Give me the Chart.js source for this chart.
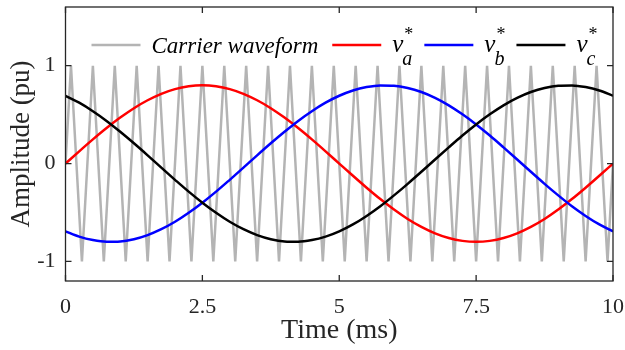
<!DOCTYPE html>
<html>
<head>
<meta charset="utf-8">
<script src="https://cdn.jsdelivr.net/npm/chart.js@4"></script>
<style>
  body { margin: 0; background: #fff; }
  #wrap { width: 625px; height: 350px; }
</style>
</head>
<body>
<div id="wrap"><canvas id="pwmChart" width="625" height="350"></canvas></div>
<script>
// time axis of the references (ms), one sample every 0.25 ms
const sineTime = [0, 0.25, 0.5, 0.75, 1, 1.25, 1.5, 1.75, 2, 2.25, 2.5, 2.75, 3, 3.25, 3.5, 3.75, 4, 4.25, 4.5, 4.75, 5,
  5.25, 5.5, 5.75, 6, 6.25, 6.5, 6.75, 7, 7.25, 7.5, 7.75, 8, 8.25, 8.5, 8.75, 9, 9.25, 9.5, 9.75, 10]

// three-phase references (pu)
const vaRef = [0, 0.125, 0.247, 0.363, 0.470, 0.566, 0.647, 0.713, 0.761, 0.790, 0.800, 0.790, 0.761, 0.713, 0.647, 0.566, 0.470, 0.363, 0.247, 0.125, 0,
  -0.125, -0.247, -0.363, -0.470, -0.566, -0.647, -0.713, -0.761, -0.790, -0.800, -0.790, -0.761, -0.713, -0.647, -0.566, -0.470, -0.363, -0.247, -0.125, 0]
const vbRef = [-0.693, -0.747, -0.782, -0.799, -0.796, -0.773, -0.731, -0.671, -0.595, -0.503, -0.400, -0.287, -0.166, -0.042, 0.084, 0.207, 0.325, 0.436, 0.535, 0.622, 0.693,
  0.747, 0.782, 0.799, 0.796, 0.773, 0.731, 0.671, 0.595, 0.503, 0.400, 0.287, 0.166, 0.042, -0.084, -0.207, -0.325, -0.436, -0.535, -0.622, -0.693]
const vcRef = [0.693, 0.622, 0.535, 0.436, 0.325, 0.207, 0.084, -0.042, -0.166, -0.287, -0.400, -0.503, -0.595, -0.671, -0.731, -0.773, -0.796, -0.799, -0.782, -0.747, -0.693,
  -0.622, -0.535, -0.436, -0.325, -0.207, -0.084, 0.042, 0.166, 0.287, 0.400, 0.503, 0.595, 0.671, 0.731, 0.773, 0.796, 0.799, 0.782, 0.747, 0.693]

// triangular carrier: corner times (ms) and levels (pu)
const carrierTime = [0, 0.1, 0.3, 0.5, 0.7, 0.9, 1.1, 1.3, 1.5, 1.7, 1.9, 2.1, 2.3, 2.5, 2.7, 2.9, 3.1, 3.3, 3.5, 3.7, 3.9,
  4.1, 4.3, 4.5, 4.7, 4.9, 5.1, 5.3, 5.5, 5.7, 5.9, 6.1, 6.3, 6.5, 6.7, 6.9, 7.1, 7.3, 7.5, 7.7, 7.9,
  8.1, 8.3, 8.5, 8.7, 8.9, 9.1, 9.3, 9.5, 9.7, 9.9, 10]
const carrierLevel = [0, 1, -1, 1, -1, 1, -1, 1, -1, 1, -1, 1, -1, 1, -1, 1, -1, 1, -1, 1, -1,
  1, -1, 1, -1, 1, -1, 1, -1, 1, -1, 1, -1, 1, -1, 1, -1, 1, -1, 1, -1,
  1, -1, 1, -1, 1, -1, 1, -1, 1, -1, 0]

const xTicks = [0, 2.5, 5, 7.5, 10]
const yTicks = [-1, 0, 1]
const phaseNames = [`a`, `b`, `c`]
const carrierName = `Carrier waveform`

const serif = `"Liberation Serif", "Times New Roman", serif`
const axisInk = `#262626`
const phaseColors = [`#ff0000`, `#0000ff`, `#000000`]
const carrierColor = `#b4b4b4`

const toPoints = (xs, ys) => xs.map((x, i) => ({ x: x, y: ys[i] }))

// box around the plot with inward ticks on all four sides
const framePlugin = {
  id: `frame`,
  afterDraw(chart) {
    const { ctx, chartArea: a, scales } = chart
    ctx.save()
    ctx.strokeStyle = axisInk
    ctx.lineWidth = 1.3
    ctx.strokeRect(a.left, a.top, a.right - a.left, a.bottom - a.top)
    const len = 6
    ctx.beginPath()
    xTicks.forEach(v => {
      const px = scales.x.getPixelForValue(v)
      ctx.moveTo(px, a.bottom); ctx.lineTo(px, a.bottom - len)
      ctx.moveTo(px, a.top); ctx.lineTo(px, a.top + len)
    })
    yTicks.forEach(v => {
      const py = scales.y.getPixelForValue(v)
      ctx.moveTo(a.left, py); ctx.lineTo(a.left + len, py)
      ctx.moveTo(a.right, py); ctx.lineTo(a.right - len, py)
    })
    ctx.stroke()
    ctx.restore()
  },
}

// legend row across the top, v with subscript phase and a star
const legendPlugin = {
  id: `waveLegend`,
  afterDraw(chart) {
    const { ctx, chartArea: a } = chart
    const y = a.top + 38
    const lineLen = 49
    let x = a.left + 26
    ctx.save()
    ctx.textBaseline = `alphabetic`
    ctx.textAlign = `left`
    ctx.lineWidth = 2.5

    const swatch = color => {
      ctx.strokeStyle = color
      ctx.beginPath()
      ctx.moveTo(x, y); ctx.lineTo(x + lineLen, y)
      ctx.stroke()
      x += lineLen + 11
    }

    swatch(carrierColor)
    ctx.fillStyle = `#000`
    ctx.font = `italic 23px ${serif}`
    ctx.fillText(carrierName, x, y + 8)
    x += ctx.measureText(carrierName).width + 14

    phaseNames.forEach((p, i) => {
      swatch(phaseColors[i])
      ctx.fillStyle = `#000`
      ctx.font = `italic 25px ${serif}`
      ctx.fillText(`v`, x, y + 7)
      const vw = ctx.measureText(`v`).width
      ctx.font = `18px ${serif}`
      ctx.fillText(`*`, x + vw + 1, y - 5)
      ctx.font = `italic 20px ${serif}`
      ctx.fillText(p, x + vw - 1, y + 20)
      x += vw + ctx.measureText(p).width + 11
    })
    ctx.restore()
  },
}

const ctx = document.getElementById(`pwmChart`)

new Chart(ctx, {
  type: `line`,
  data: {
    datasets: [
      { label: carrierName, data: toPoints(carrierTime, carrierLevel), borderColor: carrierColor, borderWidth: 2.5, tension: 0, order: 4 },
      { label: `va*`, data: toPoints(sineTime, vaRef), borderColor: phaseColors[0], borderWidth: 2.5, cubicInterpolationMode: `monotone`, order: 3 },
      { label: `vb*`, data: toPoints(sineTime, vbRef), borderColor: phaseColors[1], borderWidth: 2.5, cubicInterpolationMode: `monotone`, order: 2 },
      { label: `vc*`, data: toPoints(sineTime, vcRef), borderColor: phaseColors[2], borderWidth: 2.5, cubicInterpolationMode: `monotone`, order: 1 },
    ],
  },
  options: {
    responsive: false,
    animation: false,
    events: [],
    elements: { point: { radius: 0 }, line: { borderJoinStyle: `miter` } },
    layout: { padding: { top: 7, right: 12, left: 0, bottom: 0 } },
    plugins: { legend: { display: false }, tooltip: { enabled: false } },
    scales: {
      x: {
        type: `linear`,
        min: 0,
        max: 10,
        grid: { display: false, drawTicks: false },
        border: { display: false },
        afterBuildTicks: s => { s.ticks = xTicks.map(v => ({ value: v })) },
        afterFit: s => { s.height = 69; s.paddingLeft = 0; s.paddingRight = 0 },
        ticks: { color: axisInk, font: { family: serif, size: 22 }, padding: 13, maxRotation: 0, callback: v => `${v}` },
        title: { display: true, text: `Time (ms)`, color: axisInk, font: { family: serif, size: 28 }, padding: { top: 0, bottom: 3 } },
      },
      y: {
        min: -1.2,
        max: 1.6,
        grid: { display: false, drawTicks: false },
        border: { display: false },
        afterBuildTicks: s => { s.ticks = yTicks.map(v => ({ value: v })) },
        afterFit: s => { s.width = 65.5; s.paddingTop = 0; s.paddingBottom = 0 },
        ticks: { color: axisInk, font: { family: serif, size: 22 }, padding: 10, callback: v => `${v}` },
        title: { display: true, text: `Amplitude (pu)`, color: axisInk, font: { family: serif, size: 27 }, padding: { top: 6, bottom: 0 } },
      },
    },
  },
  plugins: [framePlugin, legendPlugin],
})
</script>
</body>
</html>
